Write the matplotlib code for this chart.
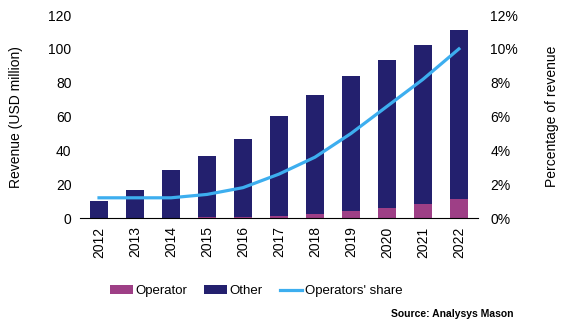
import matplotlib.pyplot as plt
from matplotlib.ticker import FuncFormatter

years = ['2012', '2013', '2014', '2015', '2016', '2017', '2018', '2019', '2020', '2021', '2022']
total = [10, 16.5, 28.4, 36.7, 46.7, 60.3, 72.8, 84, 93.5, 102.4, 111]
operator = [0.1, 0.2, 0.3, 0.5, 0.7, 1.5, 2.4, 4.1, 5.9, 8.3, 11.2]
share = [1.2, 1.2, 1.2, 1.4, 1.8, 2.6, 3.6, 5.0, 6.6, 8.2, 10.0]

other = [t - o for t, o in zip(total, operator)]

plt.rcParams['font.family'] = ['Liberation Sans', 'DejaVu Sans']

fig = plt.figure(figsize=(5.63, 3.27), dpi=100)
ax = fig.add_axes([0.142, 0.333, 0.707, 0.621])
x = range(len(years))
ax.bar(x, operator, width=0.49, color='#9E3F86', label='Operator')
ax.bar(x, other, width=0.49, bottom=operator, color='#23206E', label='Other')
ax.set_ylim(0, 120)
ax.set_yticks(range(0, 121, 20))
ax.set_xlim(-0.53, 10.53)
ax.set_xticks(list(x))
ax.set_xticklabels(years, rotation=90, fontsize=10)
ax.tick_params(axis='both', length=0, labelsize=10, pad=6)
ax.set_ylabel('Revenue (USD million)', fontsize=10, labelpad=18)
for s in ['top', 'right', 'left']:
    ax.spines[s].set_visible(False)
ax.spines['bottom'].set_color('black')

ax2 = ax.twinx()
ax2.plot(x, share, color='#3DAEEF', lw=2.3, label="Operators' share")
ax2.set_ylim(0, 12)
ax2.set_yticks(range(0, 13, 2))
ax2.yaxis.set_major_formatter(FuncFormatter(lambda v, p: f'{v:.0f}%'))
ax2.tick_params(axis='y', length=0, labelsize=10, pad=9)
ax2.set_ylabel('Percentage of revenue', fontsize=10, labelpad=19)
for s in ['top', 'right', 'left', 'bottom']:
    ax2.spines[s].set_visible(False)

h1, l1 = ax.get_legend_handles_labels()
h2, l2 = ax2.get_legend_handles_labels()
fig.legend(h1 + h2, l1 + l2, loc='center', bbox_to_anchor=(0.455, 0.11), ncol=3,
           frameon=False, fontsize=9.5, handlelength=1.7, handleheight=0.6,
           handletextpad=0.2, columnspacing=1.3)

fig.text(0.912, 0.04, 'Source: Analysys Mason', ha='right', va='center', fontsize=7.5,
         fontweight='bold')

fig.savefig('out.png', dpi=100)
